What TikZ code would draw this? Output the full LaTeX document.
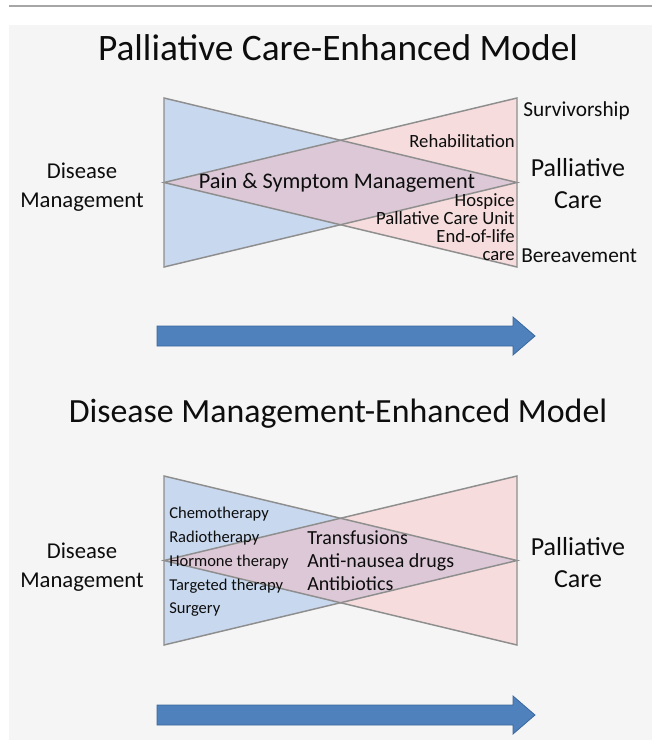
\documentclass[tikz,border=0pt]{standalone}
\usepackage{fontspec}
\setmainfont{Carlito}
\definecolor{panel}{HTML}{F5F5F5}
\definecolor{rule}{HTML}{A6A6A6}
\definecolor{bluefill}{HTML}{C8D8EF}
\definecolor{pinkfill}{HTML}{F6DCDC}
\definecolor{mixfill}{HTML}{DCC8D6}
\definecolor{edge}{HTML}{8E8E8E}
\definecolor{arrowfill}{HTML}{4F81BD}
\definecolor{arrowedge}{HTML}{3A679C}
\definecolor{txt}{HTML}{0D0D0D}
\newcommand{\pxfont}[1]{\fontsize{#1}{#1}\selectfont}
\tikzset{
  edgeline/.style={draw=edge, line width=1.1pt, line join=miter},
  bigarrow/.style={fill=arrowfill, draw=arrowedge, line width=0.6pt},
  lbl/.style={inner sep=0pt, text=txt},
  title/.style={lbl, font=\pxfont{28pt}},
  titleb/.style={lbl, font=\pxfont{25.4pt}},
  side/.style={lbl, font=\pxfont{17pt}},
  pc/.style={lbl, font=\pxfont{19.5pt}},
  outer/.style={lbl, font=\pxfont{16pt}},
  small/.style={lbl, font=\pxfont{14pt}},
  pain/.style={lbl, font=\pxfont{16.7pt}},
  list/.style={lbl, font=\pxfont{12.4pt}},
  drug/.style={lbl, font=\pxfont{15pt}}
}
\newcommand{\drawbowtie}{%
  \fill[bluefill] (164,98) -- (164,267) -- (517,182.5) -- cycle;
  \fill[pinkfill] (517,98) -- (517,267) -- (164,182.5) -- cycle;
  \fill[mixfill] (164,182.5) -- (340.5,140.25) -- (517,182.5) -- (340.5,224.75) -- cycle;
  \draw[edgeline] (164,98) -- (164,267) -- (517,182.5) -- cycle;
  \draw[edgeline] (517,98) -- (517,267) -- (164,182.5) -- cycle;
}
\newcommand{\timearrow}[1]{%
  \draw[bigarrow] (157,#1-10) -- (513,#1-10) -- (513,#1-19) -- (535,#1) -- (513,#1+19) -- (513,#1+10) -- (157,#1+10) -- cycle;
}
\begin{document}
\begin{tikzpicture}[x=0.75pt,y=-0.75pt]
\useasboundingbox (0,0) rectangle (652,740);
\fill[white] (0,0) rectangle (652,740);
\fill[panel] (9,25) rectangle (652,740);
\draw[rule, line width=1.5pt] (9,6) -- (652,6);

% ---------- top model ----------
\node[title] (t1) at (338,48) {Palliative Care-Enhanced Model};
\begin{scope}
  \drawbowtie
\end{scope}
\node[side, anchor=mid] (dm1a) at (82,175) {Disease};
\node[side, anchor=mid] (dm1b) at (82,204) {Management};
\node[pc, anchor=mid] (pc1a) at (578,173) {Palliative};
\node[pc, anchor=mid] (pc1b) at (578,205) {Care};
\node[outer, anchor=mid west] (surv) at (523,113) {Survivorship};
\node[outer, anchor=mid west] (ber) at (521,259) {Bereavement};
\node[small, anchor=mid east] (rehab) at (515,144) {Rehabilitation};
\node[pain, anchor=mid] (pain) at (337,185) {Pain \& Symptom Management};
\node[small, anchor=mid east] (hosp) at (515,203) {Hospice};
\node[small, anchor=mid east] (pcu) at (515,221) {Pallative Care Unit};
\node[small, anchor=mid east] (eol) at (515,239) {End-of-life};
\node[small, anchor=mid east] (care) at (515,257) {care};
\timearrow{336}

% ---------- bottom model ----------
\node[titleb] (t2) at (338,414) {Disease Management-Enhanced Model};
\begin{scope}[shift={(0,378)}]
  \drawbowtie
\end{scope}
\node[side, anchor=mid] (dm2a) at (82,555) {Disease};
\node[side, anchor=mid] (dm2b) at (82,584) {Management};
\node[pc, anchor=mid] (pc2a) at (578,552) {Palliative};
\node[pc, anchor=mid] (pc2b) at (578,584) {Care};
\node[list, anchor=mid west] (chemo) at (169,515) {Chemotherapy};
\node[list, anchor=mid west] (radio) at (169,539) {Radiotherapy};
\node[list, anchor=mid west] (horm) at (169,563) {Hormone therapy};
\node[list, anchor=mid west] (targ) at (169,587) {Targeted therapy};
\node[list, anchor=mid west] (surg) at (169,610) {Surgery};
\node[drug, anchor=mid west] (trans) at (307,541) {Transfusions};
\node[drug, anchor=mid west] (anau) at (307,564) {Anti-nausea drugs};
\node[drug, anchor=mid west] (abio) at (307,587) {Antibiotics};
\timearrow{715}
\end{tikzpicture}
\end{document}
